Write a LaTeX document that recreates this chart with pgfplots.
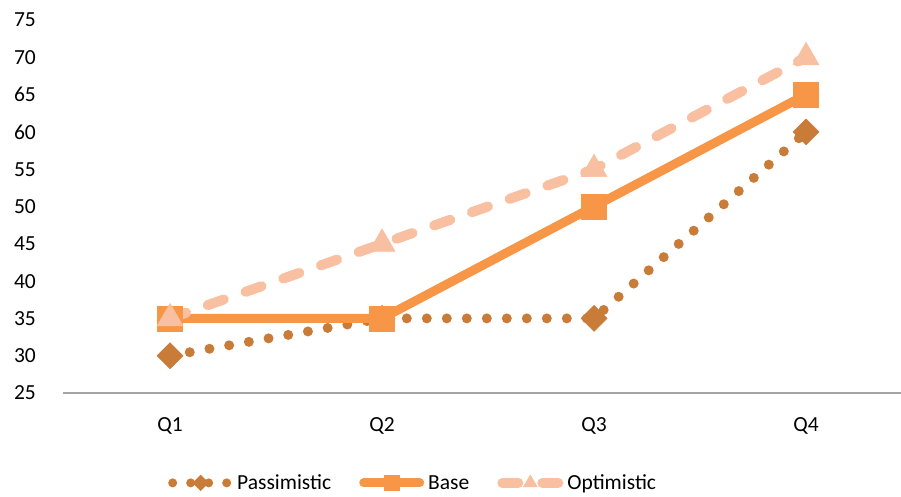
\documentclass[border=0pt]{standalone}
\usepackage{fontspec}
\setmainfont{Carlito}
\usepackage{pgfplots}
\pgfplotsset{compat=1.18}

\definecolor{pess}{RGB}{201,123,56}
\definecolor{basec}{RGB}{247,150,70}
\definecolor{optc}{RGB}{248,191,161}
\definecolor{axgray}{RGB}{165,165,165}

\begin{document}
\begin{tikzpicture}
\useasboundingbox (-63pt,-104pt) rectangle (838pt,393pt);
\begin{axis}[
    scale only axis,
    width=838pt, height=373pt,
    xmin=-0.505, xmax=3.448,
    ymin=25, ymax=75,
    ytick={25,30,...,75},
    xtick={0,1,2,3},
    xticklabels={Q1,Q2,Q3,Q4},
    axis x line*=bottom,
    axis y line*=left,
    y axis line style={draw=none},
    x axis line style={axgray, line width=2pt},
    major tick length=0pt,
    tick style={draw=none},
    /pgf/number format/assume math mode=true,
    ticklabel style={font=\fontsize{21.5}{26}\selectfont, inner sep=0pt},
    yticklabel style={anchor=east, xshift=-27pt},
    xticklabel style={anchor=north, yshift=-24pt},
    clip=false,
    legend columns=3,
    legend style={draw=none, fill=none, at={(0.419,-0.241)}, anchor=center,
        font=\fontsize{21.5}{26}\selectfont,
        /tikz/every even column/.append style={column sep=24pt},
        nodes={inner sep=4pt}},
    legend image code/.code={\draw[mark repeat=2,mark phase=2,#1]
        plot coordinates {(0pt,0pt) (28pt,0pt) (56pt,0pt)};},
]
\addplot[pess, line width=10pt, line cap=round, dash pattern=on 0pt off 20pt,
    mark=square*, mark size=9.2pt,
    mark options={rotate=45, solid, line width=0.5pt, fill=pess},
    legend image post style={line width=9pt, dash pattern=on 0pt off 18pt, mark size=5.5pt}]
    coordinates {(0,30) (1,35) (2,35) (3,60)};
\addlegendentry{Passimistic}
\addplot[basec, line width=9pt, line cap=round, line join=round,
    mark=square*, mark size=12.5pt,
    mark options={solid, line width=0.5pt, fill=basec},
    legend image post style={mark size=7.5pt}]
    coordinates {(0,35) (1,35) (2,50) (3,65)};
\addlegendentry{Base}
\addplot[optc, line width=10pt, line cap=round, dash pattern=on 17pt off 23pt,
    mark=triangle*, mark size=15pt,
    mark options={solid, line width=0.5pt, fill=optc},
    legend image post style={dash pattern=on 16pt off 24pt, mark size=8pt}]
    coordinates {(0,35) (1,45) (2,55) (3,70)};
\addlegendentry{Optimistic}
\end{axis}
\end{tikzpicture}
\end{document}
